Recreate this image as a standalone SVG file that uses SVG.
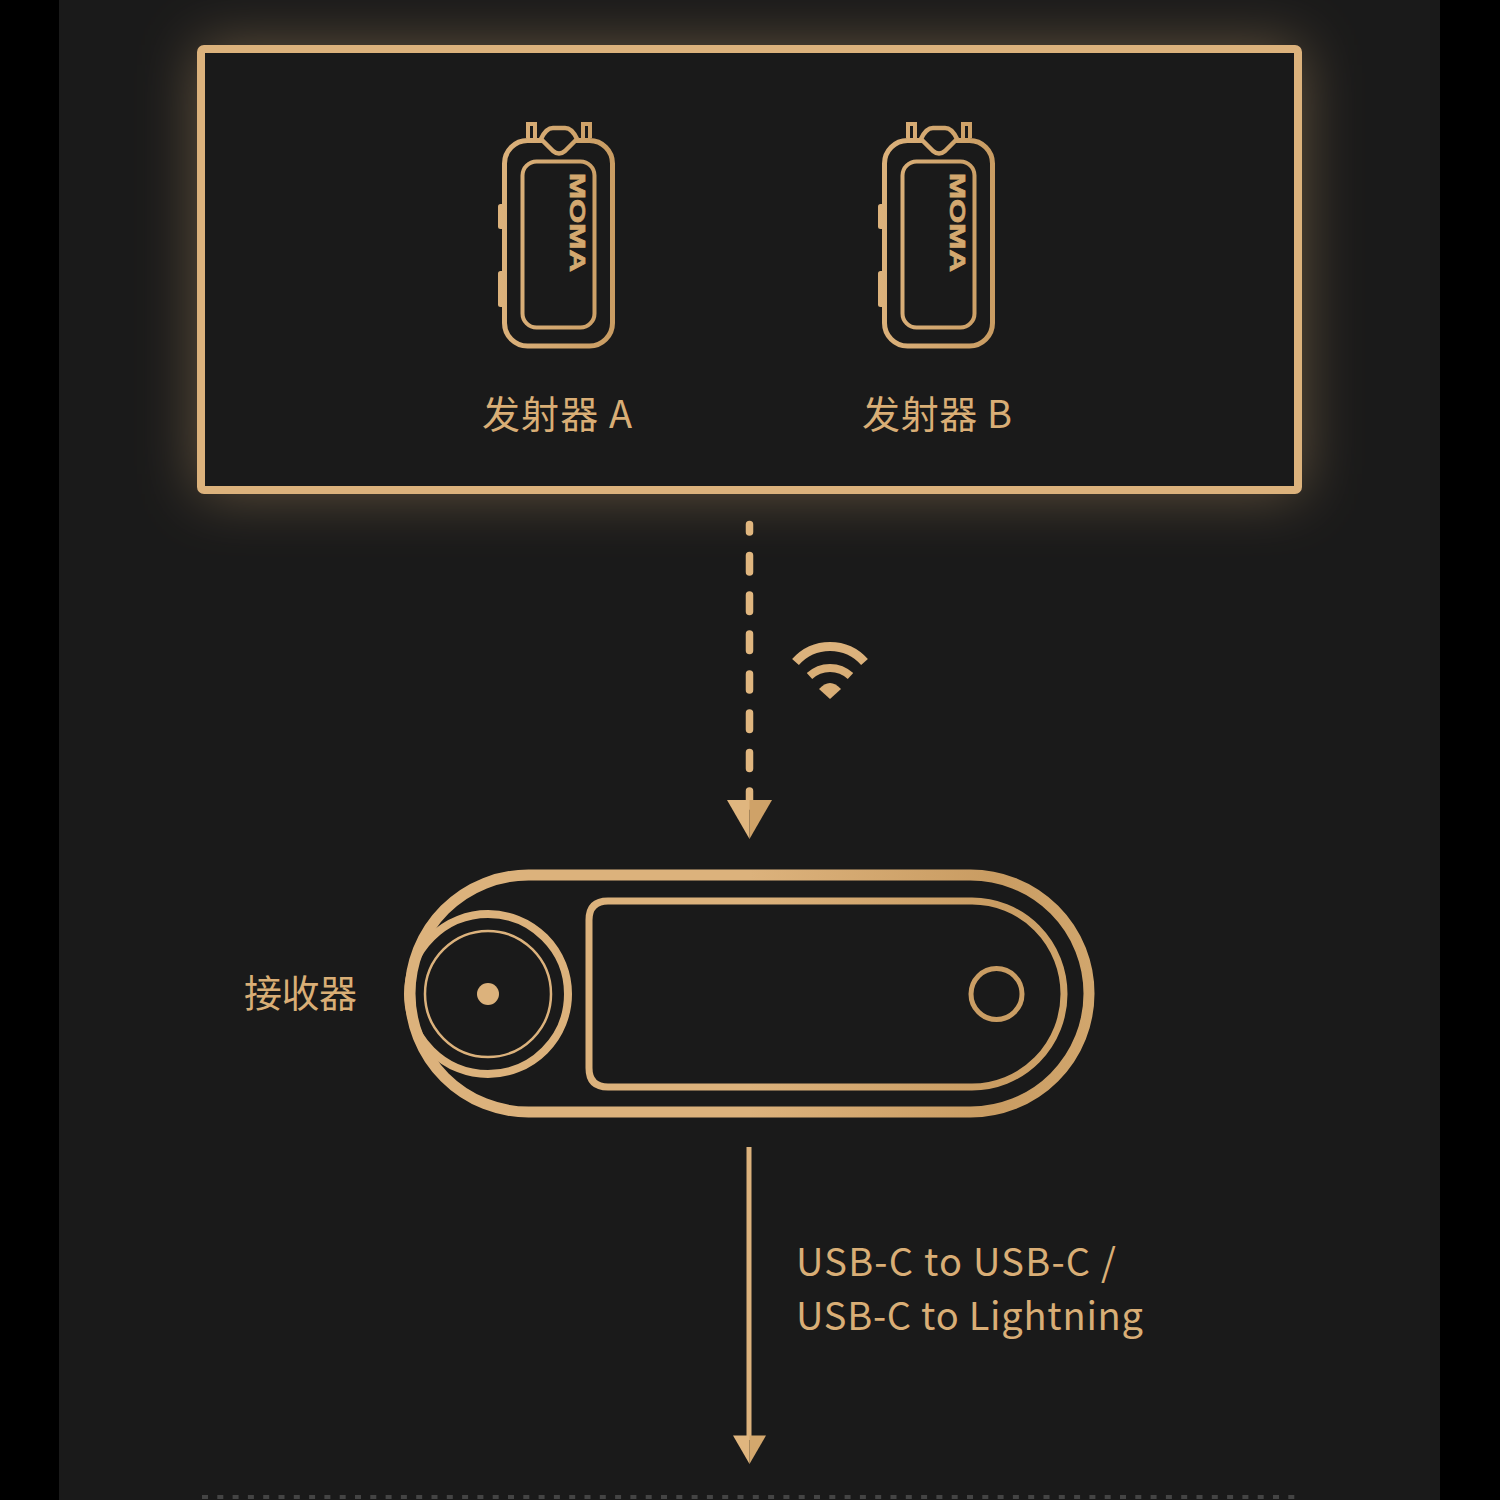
<svg xmlns="http://www.w3.org/2000/svg" width="1500" height="1500" viewBox="0 0 1500 1500">
<defs>
<linearGradient id="gold" gradientUnits="userSpaceOnUse" x1="400" y1="0" x2="1100" y2="0"><stop offset="0" stop-color="#dcb27c"/><stop offset="0.5" stop-color="#dcb27c"/><stop offset="0.85" stop-color="#c99c62"/><stop offset="1" stop-color="#d2a76e"/></linearGradient>
<linearGradient id="tx" gradientUnits="userSpaceOnUse" x1="498" y1="0" x2="615" y2="0"><stop offset="0" stop-color="#dcb27c"/><stop offset="1" stop-color="#c99c62"/></linearGradient>
<filter id="glow" x="-20%" y="-40%" width="140%" height="180%"><feGaussianBlur stdDeviation="30"/></filter>
<g id="transmitter">
<rect class="txs" x="504.500" y="140.500" width="108" height="205.500" rx="23" stroke-width="5"/>
<rect class="txs" x="522.500" y="161.500" width="72" height="166" rx="14" stroke-width="4"/>
<path class="txs" d="M528 138V124H535V138M583 138V124H590V138" stroke-width="4"/>
<path d="M541 139Q546 128 553 128H565Q572 128 577 139L565 151Q559 156 553 151Z" fill="#1a1a1a" stroke="url(#tx)" stroke-width="4.500" stroke-linejoin="round"/>
<rect class="txf" x="498" y="204" width="7" height="25" rx="2.500"/>
<rect class="txf" x="498" y="271" width="7" height="36" rx="2.500"/>
<text class="logo" transform="translate(570 173) rotate(90)" textLength="99" lengthAdjust="spacingAndGlyphs">MOMA</text>
</g>
</defs>
<style>
.txs{fill:none;stroke:url(#tx)}
.txf{fill:url(#tx)}
.logo{font-family:"Liberation Sans",sans-serif;font-size:22px;font-weight:700;fill:#d3a86f;stroke:#d3a86f;stroke-width:.7}
.label{font-family:"Noto Sans CJK SC","Noto Sans",sans-serif;font-size:38px;font-weight:400;fill:#d9ae76}
.rx{fill:none;stroke:url(#gold)}
</style>
<rect width="1500" height="1500" fill="#000"/>
<rect x="59" width="1381" height="1500" fill="#1a1a1a"/>
<g id="frame">
<rect x="197" y="45" width="1105" height="449" fill="#d9ae76" opacity="0.38" filter="url(#glow)"/>
<rect x="201" y="49" width="1097" height="441" rx="3" fill="#1a1a1a" stroke="#dcb27c" stroke-width="8"/>
</g>
<g id="transmitter-a">
<use href="#transmitter"/>
<text class="label" x="482" y="428" textLength="150">发射器 A</text>
</g>
<g id="transmitter-b">
<use href="#transmitter" x="380"/>
<text class="label" x="862" y="428" textLength="150">发射器 B</text>
</g>
<g id="connectors">
<path d="M749.500 524.500V532M749.500 555.500V572M749.500 595V611.500M749.500 634V650.500M749.500 674V690M749.500 713V729.500M749.500 752.500V768.500M749.500 791V806" fill="none" stroke="#e0b67f" stroke-width="7.500" stroke-linecap="round"/>
<polygon points="727,800 749.500,800 749.500,839" fill="#e0b67f"/>
<polygon points="749.500,800 772,800 749.500,839" fill="#cfa268"/>
<path d="M749 1147V1440" fill="none" stroke="#dcb27c" stroke-width="5"/>
<polygon points="733,1435.500 749.500,1435.500 749.500,1464" fill="#e0b67f"/>
<polygon points="749.500,1435.500 766,1435.500 749.500,1464" fill="#d3a76d"/>
</g>
<g id="wifi">
<path d="M795.500 662A46 46 0 0 1 864.500 662" fill="none" stroke="#dcb27c" stroke-width="9"/>
<path d="M809.500 676A30 30 0 0 1 850.500 676" fill="none" stroke="#d9ae76" stroke-width="8"/>
<path d="M819 689Q830 677 841 689L830 699Z" fill="#d9ae76"/>
</g>
<g id="receiver">
<rect class="rx" x="410" y="875" width="679" height="237" rx="118.500" stroke-width="11"/>
<circle class="rx" cx="488" cy="994" r="80" stroke-width="8"/>
<circle class="rx" cx="488" cy="994" r="63" stroke-width="2.500"/>
<circle cx="488" cy="994" r="11" fill="#dcb27c"/>
<path class="rx" d="M608 901H972A92 93 0 0 1 972 1087H608Q589 1087 589 1068V920Q589 901 608 901Z" stroke-width="7"/>
<circle class="rx" cx="996.500" cy="994" r="25.500" stroke-width="5"/>
<text class="label" x="244" y="1007" textLength="113">接收器</text>
</g>
<g id="output-label">
<text class="label" x="796" y="1276" textLength="320">USB-C to USB-C /</text>
<text class="label" x="796" y="1330" textLength="347">USB-C to Lightning</text>
</g>
<path id="divider" d="M202 1497H1300" fill="none" stroke="#444" stroke-width="4" stroke-dasharray="6 9.300"/>
</svg>
